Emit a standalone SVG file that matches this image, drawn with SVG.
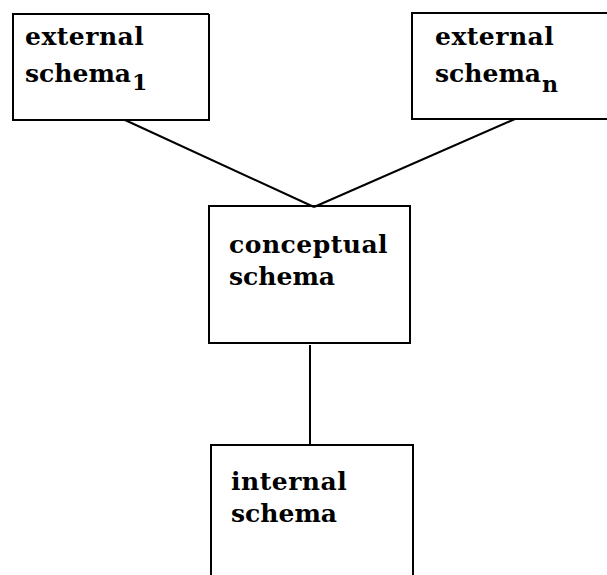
<svg xmlns="http://www.w3.org/2000/svg" width="607" height="575" viewBox="0 0 607 575">
<style>
.box{fill:none;stroke:#000;stroke-width:2}
.ln{fill:none;stroke:#000;stroke-width:2}
text{font-family:"DejaVu Serif","Liberation Serif",serif;font-weight:bold;font-size:25px;letter-spacing:0.5px;fill:#000}
.sc{letter-spacing:0}
.sub{font-size:22px}
</style>
<rect width="607" height="575" fill="#fff"/>
<g id="connectors">
<line class="ln" x1="125" y1="120" x2="314" y2="207"/>
<line class="ln" x1="515" y1="119" x2="314" y2="207"/>
<line class="ln" x1="310" y1="345" x2="310" y2="445"/>
</g>
<g id="external1">
<path class="box" d="M209,14 H13 V120 H209 V14"/>
<text x="25" y="45">external</text>
<text class="sc" x="25" y="82">schema<tspan class="sub" dx="1" dy="8">1</tspan></text>
</g>
<g id="externaln">
<path class="box" d="M607,13 H412 V119 H607"/>
<text x="435" y="45">external</text>
<text class="sc" x="435" y="82">schema<tspan class="sub" dx="1" dy="10">n</tspan></text>
</g>
<g id="conceptual">
<rect class="box" x="209" y="206" width="201" height="137"/>
<text x="229" y="253">conceptual</text>
<text class="sc" x="229" y="285">schema</text>
</g>
<g id="internal">
<path class="box" d="M211,576 V445 H413 V576"/>
<text x="231" y="490">internal</text>
<text class="sc" x="231" y="522">schema</text>
</g>
</svg>
